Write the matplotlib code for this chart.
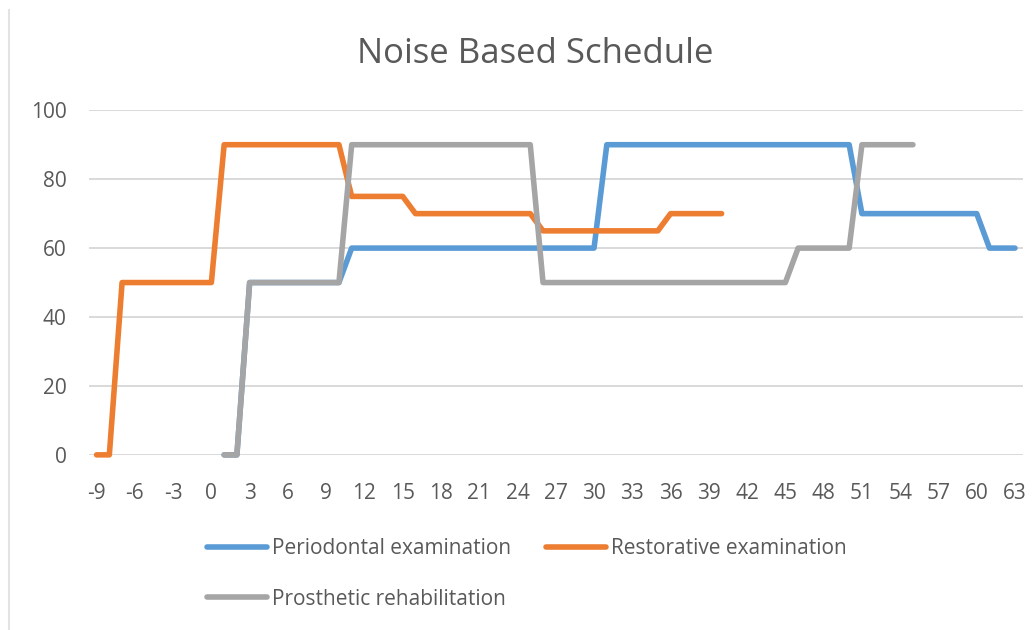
import matplotlib
matplotlib.use("Agg")
import matplotlib.pyplot as plt
from matplotlib.lines import Line2D

# ---------------- data ----------------
x_periodontal = list(range(1, 64))
y_periodontal = ([0, 0] + [50] * 8 + [60] * 20 + [90] * 20 + [70] * 10 + [60] * 3)

x_restorative = list(range(-9, 41))
y_restorative = ([0, 0] + [50] * 8 + [90] * 10 + [75] * 5 + [70] * 10 + [65] * 10 + [70] * 5)

x_prosthetic = list(range(1, 56))
y_prosthetic = ([0, 0] + [50] * 8 + [90] * 15 + [50] * 20 + [60] * 5 + [90] * 5)

x_ticks = list(range(-9, 64, 3))
y_ticks = [0, 20, 40, 60, 80, 100]
series_names = ["Periodontal examination", "Restorative examination", "Prosthetic rehabilitation"]
title = "Noise Based Schedule"

# ---------------- style ----------------
plt.rcParams['font.family'] = ['Open Sans', 'DejaVu Sans']
plt.rcParams['axes.unicode_minus'] = False

txt = "#595959"
c_blue, c_orange, c_gray = "#5B9BD5", "#ED7D31", "#A5A5A5"

fig = plt.figure(figsize=(10.34, 6.30), dpi=100)
ax = fig.add_axes([0.086, 0.278, 0.903, 0.547])

lw = 4.0
l1, = ax.plot(x_periodontal, y_periodontal, color=c_blue, lw=lw, clip_on=False,
              solid_joinstyle='round', solid_capstyle='round', label=series_names[0], zorder=3)
l2, = ax.plot(x_restorative, y_restorative, color=c_orange, lw=lw, clip_on=False,
              solid_joinstyle='round', solid_capstyle='round', label=series_names[1], zorder=4)
l3, = ax.plot(x_prosthetic, y_prosthetic, color=c_gray, lw=lw, clip_on=False,
              solid_joinstyle='round', solid_capstyle='round', label=series_names[2], zorder=5)

ax.set_xlim(-9.6, 63.6)
ax.set_ylim(0, 100)
ax.set_xticks(x_ticks)
ax.set_yticks(y_ticks)
ax.tick_params(axis='both', length=0, labelsize=15, colors=txt)
ax.tick_params(axis='x', pad=20)
ax.tick_params(axis='y', pad=16)
ax.grid(axis='y', color='#D9D9D9', lw=1.4)
ax.set_axisbelow(True)
for s in ax.spines.values():
    s.set_visible(False)

fig.suptitle(title, x=0.518, y=0.942, fontsize=25, color=txt)

leg = fig.legend([l1, l3, l2], [series_names[0], series_names[2], series_names[1]],
                 ncol=2, loc='upper left', bbox_to_anchor=(0.182, 0.175),
                 frameon=False, fontsize=15, handlelength=2.9, handletextpad=0.2,
                 columnspacing=1.7, labelspacing=1.4, labelcolor=txt)

# faint outer chart-frame edge on the left
fig.add_artist(Line2D([9 / 1034, 9 / 1034], [0, 1 - 10 / 630], transform=fig.transFigure,
                      color='#E3E3E3', lw=1.5))

fig.savefig("out.png", dpi=100)
